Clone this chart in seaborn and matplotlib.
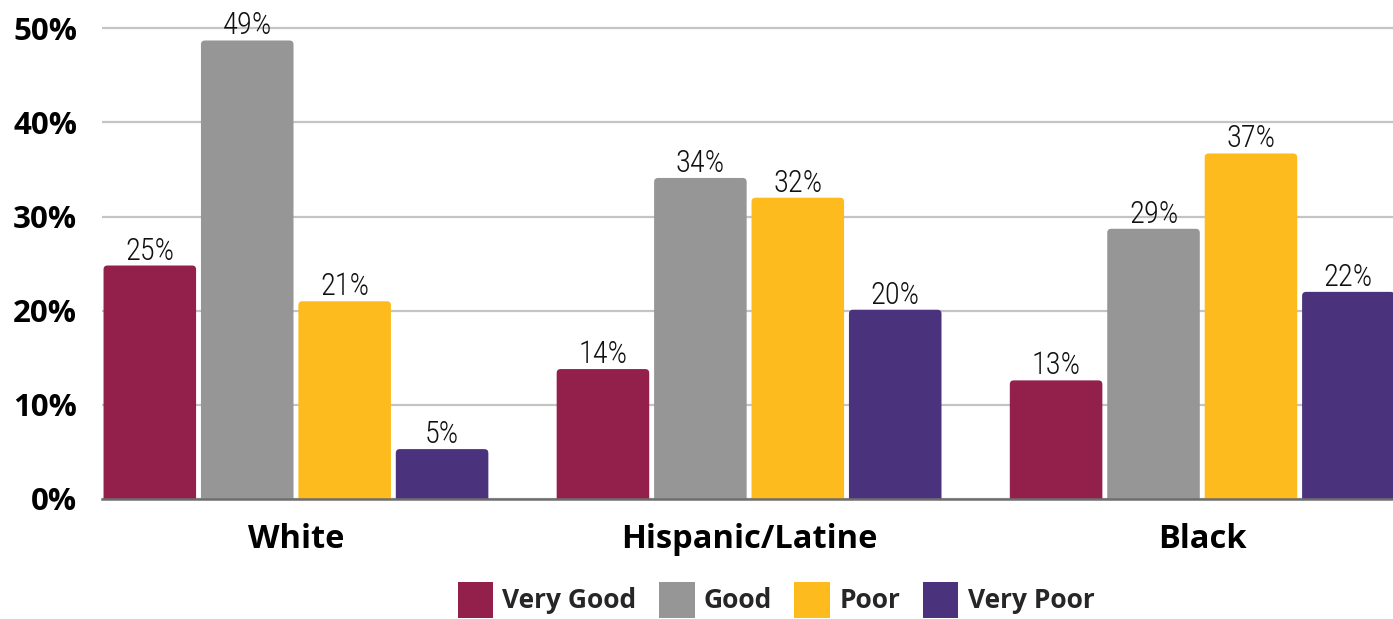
import matplotlib
matplotlib.use("Agg")
import matplotlib.pyplot as plt
from matplotlib.patches import FancyBboxPatch, Patch
import seaborn as sns
import pandas as pd

# Survey shares (%) by group and rating
groups = ["White", "Hispanic/Latine", "Black"]
ratings = ["Very Good", "Good", "Poor", "Very Poor"]
very_good = [24.8, 13.8, 12.6]
good = [48.7, 34.1, 28.7]
poor = [21.0, 32.0, 36.7]
very_poor = [5.3, 20.1, 22.0]
y_ticks = [0, 10, 20, 30, 40, 50]
y_tick_labels = ["0%", "10%", "20%", "30%", "40%", "50%"]

colors = ["#92204A", "#969696", "#FDBB1E", "#4B327D"]

rows = []
for rating, vals in zip(ratings, [very_good, good, poor, very_poor]):
    for g, v in zip(groups, vals):
        rows.append({"group": g, "rating": rating, "share": v})
df = pd.DataFrame(rows)

sns.set_theme(style="white")
plt.rcParams["font.family"] = ["Open Sans", "DejaVu Sans"]

W, H = 1393, 619
fig = plt.figure(figsize=(W / 100, H / 100), dpi=100)
ax = fig.add_axes([102 / W, (H - 499) / H, 1 - 102 / W, 499 / H])

sns.barplot(data=df, x="group", y="share", hue="rating", order=groups,
            hue_order=ratings, palette=colors, width=0.86, gap=0.05,
            saturation=1, ax=ax, legend=False, linewidth=0)

ax.set_xlim(-0.428, 2.421)
ax.set_ylim(0, 53)

# Gridlines and baseline
ax.set_yticks(y_ticks)
ax.set_yticklabels(y_tick_labels, fontsize=22.5, fontweight="bold", color="black")
ax.yaxis.grid(True, color="#C4C4C4", linewidth=1.6)
ax.set_axisbelow(True)
for side in ["top", "right", "left"]:
    ax.spines[side].set_visible(False)
ax.spines["bottom"].set_color("#6E6E6E")
ax.spines["bottom"].set_linewidth(1.8)
ax.spines["bottom"].set_zorder(5)
ax.tick_params(axis="y", length=0, pad=18)
ax.tick_params(axis="x", length=0, pad=17.5)
for lbl in ax.get_xticklabels():
    lbl.set_fontsize(23.5)
    lbl.set_fontweight("bold")
    lbl.set_color("black")
ax.set_xlabel("")
ax.set_ylabel("")

# Rounded tops on the bars
px_x = ax.transData.transform((1, 0))[0] - ax.transData.transform((0, 0))[0]
px_y = ax.transData.transform((0, 1))[1] - ax.transData.transform((0, 0))[1]
aspect = px_x / px_y
r = 4 / px_x
for bar in list(ax.patches):
    x, w, h = bar.get_x(), bar.get_width(), bar.get_height()
    fb = FancyBboxPatch((x, -3), w, h + 3,
                        boxstyle=f"round,pad=0,rounding_size={r}",
                        mutation_aspect=aspect, facecolor=bar.get_facecolor(),
                        edgecolor="none", zorder=3)
    ax.add_patch(fb)
    bar.set_visible(False)

# Value labels
for cont in ax.containers:
    ax.bar_label(cont, fmt="{:.0f}%", padding=0, fontsize=22,
                 family=["Roboto Condensed", "Liberation Sans Narrow", "Roboto",
                         "DejaVu Sans"],
                 fontweight="light", color="#111111", zorder=6)

handles = [Patch(facecolor=c, edgecolor="none") for c in colors]
fig.legend(handles, ratings, loc="center", bbox_to_anchor=(0.557, 0.031),
           ncol=4, frameon=False, prop={"size": 19, "weight": "bold"},
           handlelength=1.35, handleheight=1.75, handletextpad=0.35,
           columnspacing=0.85)

fig.savefig("out.png", dpi=100)
